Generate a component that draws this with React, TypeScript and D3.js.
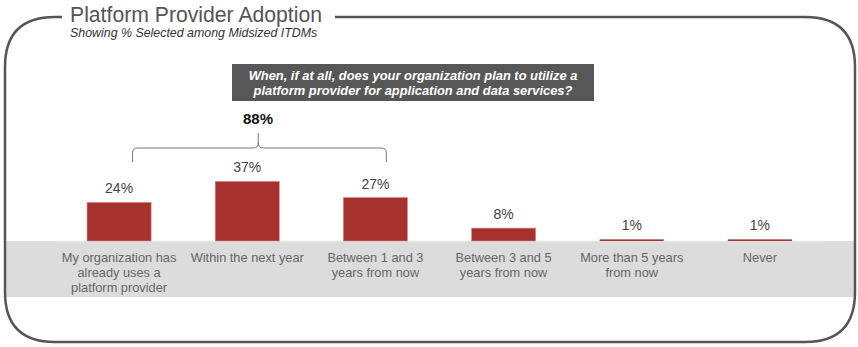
import React from "react";
import * as d3 from "d3";

const categories: string[][] = [
  ["My organization has", "already uses a", "platform provider"],
  ["Within the next year"],
  ["Between 1 and 3", "years from now"],
  ["Between 3 and 5", "years from now"],
  ["More than 5 years", "from now"],
  ["Never"],
];
const values: number[] = [24, 37, 27, 8, 1, 1];
const valueLabels: string[] = ["24%", "37%", "27%", "8%", "1%", "1%"];
const bracketTotal = "88%";
const titleText = "Platform Provider Adoption";
const subtitleText = "Showing % Selected among Midsized ITDMs";
const questionLines = [
  "When, if at all, does your organization plan to utilize a",
  "platform provider for application and data services?",
];

const W = 858;
const H = 347;
const FONT = "'Liberation Sans', Arial, Helvetica, sans-serif";

export default function App() {
  const idx = categories.map((_, i) => String(i));
  const x = d3.scaleBand<string>().domain(idx).range([55, 824]).paddingInner(0.5).paddingOuter(0.25);
  const baseY = 241;
  const y = d3.scaleLinear().domain([0, 100]).range([baseY, baseY - 161]);
  const bw = x.bandwidth();

  // frame path
  const L = 5, R = 855, T = 17, B = 342, r = 50;
  const frame = d3.path();
  frame.moveTo(62, T);
  frame.lineTo(L + r, T);
  frame.quadraticCurveTo(L, T, L, T + r);
  frame.lineTo(L, B - r);
  frame.quadraticCurveTo(L, B, L + r, B);
  frame.lineTo(R - r, B);
  frame.quadraticCurveTo(R, B, R, B - r);
  frame.lineTo(R, T + r);
  frame.quadraticCurveTo(R, T, R - r, T);
  frame.lineTo(335, T);

  // brace
  const c0 = (x("0") as number) + bw / 2;
  const c2 = (x("2") as number) + bw / 2;
  const bl = c0 + 0.21 * bw;
  const br = c2 + 0.17 * bw;
  const bm = (x("1") as number) + bw / 2 + 11;
  const bTop = 133, bMid = 148, bBot = 162, cr = 5;
  const brace = d3.path();
  brace.moveTo(bl, bBot);
  brace.lineTo(bl, bMid + cr);
  brace.quadraticCurveTo(bl, bMid, bl + cr, bMid);
  brace.lineTo(bm - cr, bMid);
  brace.quadraticCurveTo(bm, bMid, bm, bMid - cr);
  brace.lineTo(bm, bTop);
  brace.moveTo(bm, bMid - cr);
  brace.quadraticCurveTo(bm, bMid, bm + cr, bMid);
  brace.lineTo(br - cr, bMid);
  brace.quadraticCurveTo(br, bMid, br, bMid + cr);
  brace.lineTo(br, bBot);

  return (
    <svg width={W} height={H} style={{ position: "absolute", left: 0, top: 0, background: "#fff" }} fontFamily={FONT}>
      <rect x={0} y={0} width={W} height={H} fill="#fff" />
      {/* gray band */}
      <rect x={L} y={baseY} width={R - L} height={297 - baseY} fill="#dcdcdc" />
      <line x1={55} x2={824} y1={baseY} y2={baseY} stroke="#f2f2f2" strokeWidth={1} />
      <path d={frame.toString()} fill="none" stroke="#555" strokeWidth={2.5} />
      <text x={70} y={22} fontSize={21.2} fill="#555">{titleText}</text>
      <text x={70} y={37} fontSize={12.4} fontStyle="italic" fill="#333">{subtitleText}</text>

      <rect x={232} y={64} width={362} height={37} fill="#575757" />
      {questionLines.map((t, i) => (
        <text key={i} x={413} y={80 + i * 15} textAnchor="middle" fontSize={12.9} fontWeight="bold" fontStyle="italic" fill="#fff">{t}</text>
      ))}

      <text x={258} y={123.5} textAnchor="middle" fontSize={15} fontWeight="bold" fill="#111">{bracketTotal}</text>
      <path d={brace.toString()} fill="none" stroke="#777" strokeWidth={1} />

      {values.map((v, i) => {
        const xi = x(String(i)) as number;
        const yt = y(v);
        const h = Math.max(baseY - yt, 1.6);
        return (
          <g key={i}>
            <rect x={xi} y={baseY - h} width={bw} height={h} fill="#a6322f" stroke="#d88" strokeWidth={v > 2 ? 0.6 : 0} />
            <text x={xi + bw / 2} y={baseY - h - 9} textAnchor="middle" fontSize={14} fill="#444">{valueLabels[i]}</text>
            {categories[i].map((ln, j) => (
              <text key={j} x={xi + bw / 2} y={261.5 + j * 15} textAnchor="middle" fontSize={12.8} fill="#666">{ln}</text>
            ))}
          </g>
        );
      })}
    </svg>
  );
}
